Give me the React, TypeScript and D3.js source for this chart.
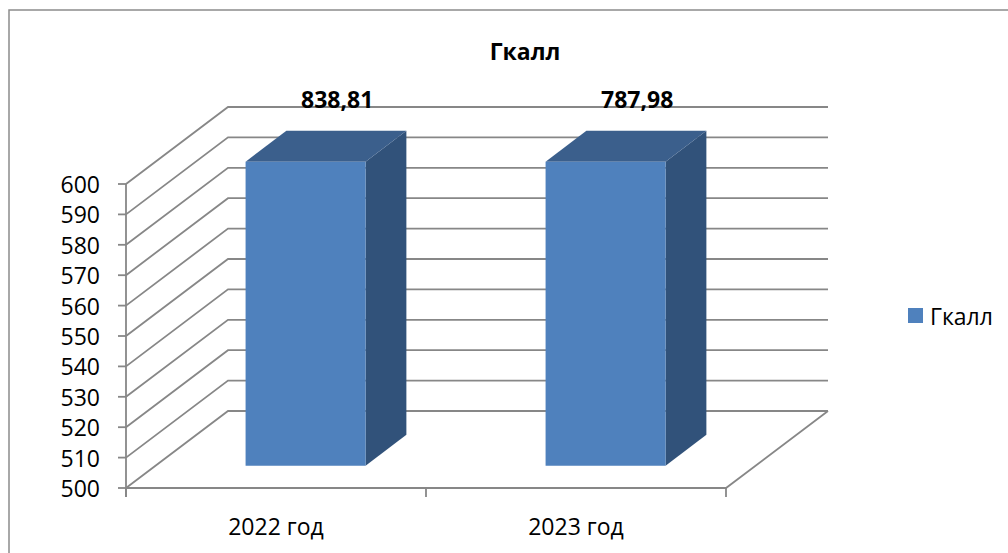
import React from 'react';
import * as d3 from 'd3';

const categories = ['2022 год', '2023 год'];
const values = [838.81, 787.98];
const valueLabels = ['838,81', '787,98'];
const yTicks = [500, 510, 520, 530, 540, 550, 560, 570, 580, 590, 600];
const seriesName = 'Гкалл';

const W = 1008;
const H = 553;
const FONT = '"Open Sans", "Noto Sans", sans-serif';

// 3d depth offset of the back wall
const DX = 102;
const DY = -77;
const F0 = 0.29; // bar front depth
const F1 = 0.69; // bar back depth

export default function App() {
  const y = d3.scaleLinear().domain([500, 600]).range([488, 184]);
  const x = d3.scaleBand().domain(categories).range([126, 726]).paddingInner(0.6).paddingOuter(0.3);
  const xCat = d3.scaleBand().domain(categories).range([126, 726]);

  const p = (px: number, v: number, f: number) => [px + DX * f, y(v) + DY * f];
  const pts = (arr: number[][]) => arr.map((a) => a.join(',')).join(' ');

  const grid = '#878787';
  const sw = 1.8;
  const [x0, x1] = [126, 726];

  return (
    <svg width={W} height={H} style={{ position: 'absolute', left: 0, top: 0, background: '#fff' }}>
      <rect x={9} y={10} width={1100} height={700} fill="#fff" stroke="#8c8c8c" strokeWidth={1.5} />

      <text x={525} y={60} textAnchor="middle" fontFamily={FONT} fontWeight="bold" fontSize={23}>
        {seriesName}
      </text>

      {/* gridlines: side wall diagonal + back wall */}
      {yTicks.map((t) => {
        const a = p(x0, t, 0);
        const b = p(x0, t, 1);
        const c = p(x1, t, 1);
        return (
          <polyline key={t} points={pts([a, b, c])} fill="none" stroke={grid} strokeWidth={sw} />
        );
      })}
      {/* floor */}
      <polyline points={pts([p(x0, 500, 0), p(x1, 500, 0), p(x1, 500, 1)])} fill="none" stroke={grid} strokeWidth={sw} />
      {/* y axis */}
      <line x1={x0} x2={x0} y1={y(600)} y2={y(500) + 9} stroke={grid} strokeWidth={sw} />
      {yTicks.map((t) => (
        <g key={'t' + t}>
          <line x1={x0 - 8} x2={x0} y1={y(t)} y2={y(t)} stroke={grid} strokeWidth={sw} />
          <text x={100} y={y(t)} textAnchor="end" dominantBaseline="central" fontFamily={FONT} fontSize={23}>
            {t}
          </text>
        </g>
      ))}
      {/* category ticks */}
      {[...categories.map((c) => xCat(c) as number), x1].map((cx, i) => (
        <line key={'c' + i} x1={cx} x2={cx} y1={y(500)} y2={y(500) + 9} stroke={grid} strokeWidth={sw} />
      ))}
      {categories.map((c) => (
        <text key={'l' + c} x={(xCat(c) as number) + xCat.bandwidth() / 2} y={535} textAnchor="middle" fontFamily={FONT} fontSize={23}>
          {c}
        </text>
      ))}

      {/* bars */}
      {categories.map((c, i) => {
        const v = Math.min(values[i], 600);
        const bl = x(c) as number;
        const br = bl + x.bandwidth();
        const front = [p(bl, 500, F0), p(br, 500, F0), p(br, v, F0), p(bl, v, F0)];
        const side = [p(br, 500, F0), p(br, 500, F1), p(br, v, F1), p(br, v, F0)];
        const top = [p(bl, v, F0), p(br, v, F0), p(br, v, F1), p(bl, v, F1)];
        const lab = p(bl + x.bandwidth() / 2, 600, 0.6);
        return (
          <g key={'b' + c}>
            <polygon points={pts(side)} fill="#31527a" />
            <polygon points={pts(top)} fill="#3b5f8c" />
            <polygon points={pts(front)} fill="#4f81bd" />
            <text x={lab[0]} y={108} textAnchor="middle" fontFamily={FONT} fontWeight="bold" fontSize={23}>
              {valueLabels[i]}
            </text>
          </g>
        );
      })}

      {/* legend */}
      <rect x={908} y={308} width={15} height={15} fill="#4f81bd" />
      <text x={930} y={316} dominantBaseline="central" fontFamily={FONT} fontSize={23}>
        {seriesName}
      </text>
    </svg>
  );
}
